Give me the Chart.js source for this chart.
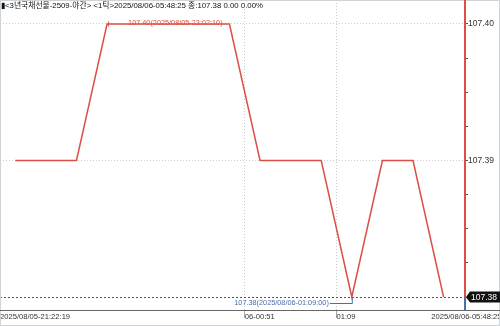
<!DOCTYPE html>
<html>
<head>
<meta charset="utf-8">
<script src="https://cdn.jsdelivr.net/npm/chart.js@4/dist/chart.umd.min.js"></script>
<style>
  html, body { margin: 0; padding: 0; background: #fff; }
  #wrap { width: 500px; height: 326px; position: relative; }
</style>
</head>
<body>
<div id="wrap"><canvas id="chart" width="500" height="326"></canvas></div>
<script>
// --------------------- Data ---------------------
const titleText = "▮<3년국채선물-2509-야간> <1틱>2025/08/06-05:48:25 종:107.38 0.00 0.00%";
const prices = [107.39, 107.39, 107.39, 107.40, 107.40, 107.40, 107.40, 107.40,
                107.39, 107.39, 107.39, 107.38, 107.39, 107.39, 107.38];
const xTickValues = [-0.5, 7.5, 10.5, 13.6];
const xTickLabels = ["2025/08/05-21:22:19", "06-00:51", "01:09", "2025/08/06-05:48:25"];
const yTickValues = [107.38, 107.3825, 107.385, 107.3875, 107.39, 107.3925, 107.395, 107.3975, 107.40];
const yMajor = [107.40, 107.39];
const maxLabel = "107.40(2025/08/05-23:02:10)";
const minLabel = "107.38(2025/08/06-01:09:00)";
const maxIndex = 3;
const minIndex = 11;

const FONT = "'Liberation Sans', Arial, 'Noto Sans CJK KR', sans-serif";
const RED = '#dd4f42';
const BLUE = '#4a6fa8';
const isMajor = (v) => yMajor.some(m => Math.abs(m - v) < 1e-6);
const isLast = (v) => Math.abs(v - prices[prices.length - 1]) < 1e-6;

// --------------------- Overlay plugin ---------------------
const overlay = {
  id: 'overlay',
  afterDraw(chart) {
    const { ctx, chartArea: a, scales: { x, y } } = chart;
    ctx.save();

    // frame
    ctx.strokeStyle = '#cfd4d8';
    ctx.lineWidth = 1;
    ctx.strokeRect(0.5, 0.5, 499, 325);

    // bottom axis line extends under price labels
    ctx.strokeStyle = '#666';
    ctx.beginPath();
    ctx.moveTo(0, Math.round(a.bottom) + 0.5);
    ctx.lineTo(500, Math.round(a.bottom) + 0.5);
    ctx.stroke();

    // right axis: red above current price, blue below
    const lastY = y.getPixelForValue(prices[prices.length - 1]);
    const rx = Math.round(a.right);
    ctx.lineWidth = 2;
    ctx.strokeStyle = RED;
    ctx.beginPath(); ctx.moveTo(rx, 0); ctx.lineTo(rx, lastY); ctx.stroke();
    ctx.strokeStyle = BLUE;
    ctx.beginPath(); ctx.moveTo(rx, lastY); ctx.lineTo(rx, a.bottom); ctx.stroke();

    // current price tag
    ctx.fillStyle = '#111';
    ctx.beginPath();
    ctx.moveTo(rx + 1, lastY);
    ctx.lineTo(rx + 5, lastY - 5.5);
    ctx.lineTo(500, lastY - 5.5);
    ctx.lineTo(500, lastY + 5.5);
    ctx.lineTo(rx + 5, lastY + 5.5);
    ctx.closePath();
    ctx.fill();
    ctx.fillStyle = '#fff';
    ctx.font = "8.5px " + FONT;
    ctx.textAlign = 'left';
    ctx.textBaseline = 'middle';
    ctx.fillText(prices[prices.length - 1].toFixed(2), rx + 6, lastY + 0.5);

    // max annotation
    const mx = x.getPixelForValue(maxIndex), my = y.getPixelForValue(prices[maxIndex]);
    ctx.strokeStyle = RED; ctx.lineWidth = 1;
    ctx.beginPath(); ctx.moveTo(mx + 1.5, my - 2.5); ctx.lineTo(mx + 1.5, my + 2.5); ctx.stroke();
    ctx.fillStyle = RED;
    ctx.font = "7.3px " + FONT;
    ctx.textAlign = 'left';
    ctx.fillText(maxLabel, mx + 21, my - 1);

    // min annotation
    const nx = x.getPixelForValue(minIndex), ny = y.getPixelForValue(prices[minIndex]);
    ctx.strokeStyle = BLUE; ctx.fillStyle = BLUE;
    ctx.beginPath();
    ctx.moveTo(nx - 22, ny + 6.5);
    ctx.lineTo(nx + 0.5, ny + 6.5);
    ctx.lineTo(nx + 0.5, ny + 1);
    ctx.stroke();
    ctx.textAlign = 'right';
    ctx.fillText(minLabel, nx - 23, ny + 6);

    // title
    ctx.fillStyle = '#111';
    ctx.textAlign = 'left';
    ctx.font = "7.8px " + FONT;
    ctx.fillText(titleText, 1, 6);
    ctx.restore();
  }
};

// --------------------- Chart ---------------------
const ctx = document.getElementById('chart').getContext('2d');
new Chart(ctx, {
  type: 'line',
  data: {
    datasets: [{
      data: prices.map((v, i) => ({ x: i, y: v })),
      borderColor: RED,
      borderWidth: 1.5,
      pointRadius: 0,
      tension: 0,
      fill: false
    }]
  },
  options: {
    responsive: false,
    animation: false,
    layout: { padding: 0 },
    plugins: { legend: { display: false }, tooltip: { enabled: false } },
    scales: {
      x: {
        type: 'linear',
        min: -0.5,
        max: 14.7,
        afterBuildTicks: (s) => { s.ticks = xTickValues.map(v => ({ value: v })); },
        afterFit: (s) => { s.height = 16; s.paddingLeft = 0; s.paddingRight = 0; },
        grid: {
          color: (c) => (c.index === 1 || c.index === 2) ? '#c8c8c8' : 'rgba(0,0,0,0)',
          tickColor: (c) => (c.index === 1 || c.index === 2) ? '#aaa' : 'rgba(0,0,0,0)',
          tickLength: 8,
          lineWidth: 1
        },
        border: { display: true, color: '#666', width: 1, dash: [1, 2] },
        ticks: {
          autoSkip: false,
          maxRotation: 0,
          align: 'start',
          padding: -6,
          color: '#333',
          font: { family: FONT, size: 7.6 },
          callback: (v, i) => xTickLabels[i]
        }
      },
      y: {
        position: 'right',
        min: 107.379048,
        max: 107.401758,
        afterBuildTicks: (s) => { s.ticks = yTickValues.map(v => ({ value: v })); },
        afterFit: (s) => { s.width = 35; s.paddingTop = 0; s.paddingBottom = 0; },
        grid: {
          color: (c) => {
            const v = c.tick ? c.tick.value : 0;
            if (isLast(v)) return '#555';
            return isMajor(v) ? '#cfcfcf' : 'rgba(0,0,0,0)';
          },
          tickColor: '#555',
          tickLength: 3,
          lineWidth: 1
        },
        border: {
          display: true, color: RED, width: 2,
          dash: (c) => (c.tick && isLast(c.tick.value)) ? [2, 2] : [1, 2]
        },
        ticks: {
          padding: 0,
          color: '#333',
          font: { family: FONT, size: 8.5 },
          callback: (v) => isMajor(v) ? v.toFixed(2) : ''
        }
      }
    }
  },
  plugins: [overlay]
});
</script>
</body>
</html>
